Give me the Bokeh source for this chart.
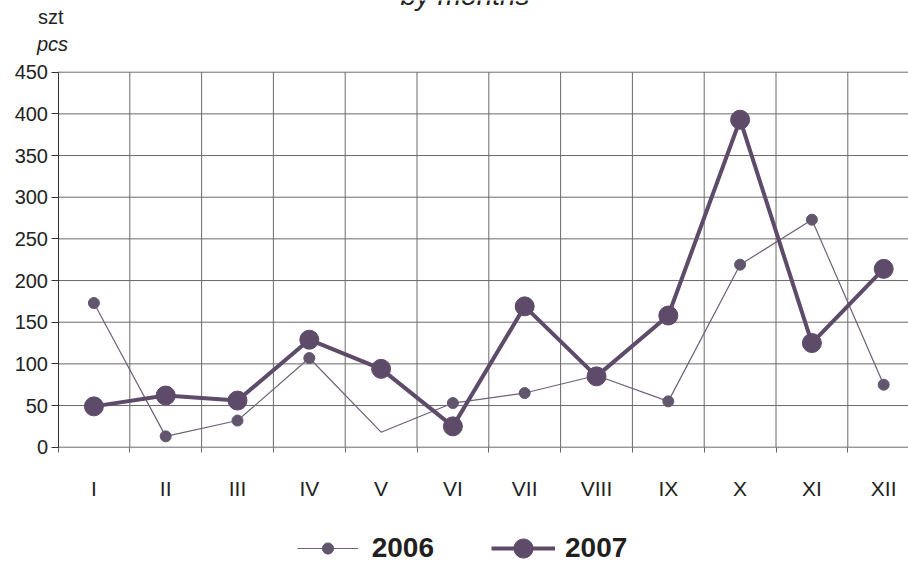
from bokeh.plotting import figure
from bokeh.models import (Range1d, FixedTicker, Label, Legend, LegendItem, ColumnDataSource)
from bokeh.embed import file_html
from bokeh.resources import INLINE

# ---- data ----
months = ["I", "II", "III", "IV", "V", "VI", "VII", "VIII", "IX", "X", "XI", "XII"]
s2006 = [173, 13, 32, 107, 18, 53, 65, 86, 55, 219, 273, 75]
s2007 = [49, 62, 56, 129, 94, 25, 169, 85, 158, 393, 125, 214]
marker2006 = [True, True, True, True, False, True, True, True, True, True, True, True]
y_ticks = [0, 50, 100, 150, 200, 250, 300, 350, 400, 450]

xs = list(range(1, len(months) + 1))
bounds_x = [x + 0.5 for x in xs]            # category boundaries 1.5 .. 12.5
first_edge = xs[0] - 0.5
FONT = "Liberation Sans"

W, H = 908, 562
# plot geometry (pixels): y-axis at x=57.5, category width 71.8; value 0 at y=446.7, 450 at y=71.7
AX_X, CAT_W = 57.5, 71.8
Y0_PX, Y450_PX = 446.7, 71.7
ppu = (Y0_PX - Y450_PX) / 450.0
x_start = first_edge - AX_X / CAT_W
x_end = first_edge + (W - AX_X) / CAT_W
y_start = -(H - Y0_PX) / ppu
y_end = 450 + Y450_PX / ppu

p = figure(width=W, height=H, output_backend="svg", toolbar_location=None,
           x_range=Range1d(x_start, x_end), y_range=Range1d(y_start, y_end),
           min_border=0)
p.outline_line_color = None
p.background_fill_color = "white"
p.border_fill_color = "white"
p.xgrid.visible = False
p.ygrid.visible = False

GRID = "#6a6a6a"
# horizontal grid lines
p.segment(x0=[first_edge] * len(y_ticks), x1=[bounds_x[-1]] * len(y_ticks),
          y0=y_ticks, y1=y_ticks, line_color=GRID, line_width=1)
# vertical grid lines at category boundaries
p.segment(x0=bounds_x, x1=bounds_x, y0=[y_ticks[0]] * len(bounds_x),
          y1=[y_ticks[-1]] * len(bounds_x), line_color=GRID, line_width=1)

# y axis
p.yaxis.fixed_location = first_edge
p.yaxis.bounds = (y_ticks[0], y_ticks[-1])
p.yaxis.ticker = FixedTicker(ticks=y_ticks)
p.yaxis.axis_line_color = "#333333"
p.yaxis.major_tick_line_color = "#333333"
p.yaxis.major_tick_out = 7
p.yaxis.major_tick_in = 0
p.yaxis.minor_tick_line_color = None
p.yaxis.major_label_standoff = 3
p.yaxis.major_label_text_font = FONT
p.yaxis.major_label_text_font_size = "20px"
p.yaxis.major_label_text_color = "#222222"

# x axis
p.xaxis.fixed_location = y_ticks[0]
p.xaxis.ticker = FixedTicker(ticks=xs, minor_ticks=[first_edge] + bounds_x)
p.xaxis.major_label_overrides = {x: m for x, m in zip(xs, months)}
p.xaxis.axis_line_color = None
p.xaxis.major_tick_line_color = None
p.xaxis.major_tick_out = 0
p.xaxis.major_tick_in = 0
p.xaxis.minor_tick_line_color = GRID
p.xaxis.minor_tick_out = 5
p.xaxis.minor_tick_in = 0
p.xaxis.major_label_standoff = 25
p.xaxis.major_label_text_font = FONT
p.xaxis.major_label_text_font_size = "21px"
p.xaxis.major_label_text_color = "#222222"

# series
c06_line = "#6e6178"
c06_mark = "#62566f"
c07 = "#5e4a69"

l06 = p.line(xs, s2006, line_color=c06_line, line_width=1.2)
src06m = ColumnDataSource(dict(x=[x for x, f in zip(xs, marker2006) if f],
                               y=[v for v, f in zip(s2006, marker2006) if f]))
m06 = p.scatter("x", "y", source=src06m, size=11, fill_color=c06_mark, line_color=c06_mark)
l07 = p.line(xs, s2007, line_color=c07, line_width=4, line_join="round")
m07 = p.scatter(xs, s2007, size=19, fill_color=c07, line_color=c07)

# legends (screen positions from bottom-left of canvas)
LEG_CY = H - 548.0
leg1 = Legend(items=[LegendItem(label="2006", renderers=[l06, m06])],
              location=(296.7, LEG_CY - 16), glyph_width=61, glyph_height=28,
              padding=0, margin=0, label_standoff=14, border_line_color=None,
              background_fill_alpha=0, label_text_font=FONT, label_text_font_size="28px",
              label_text_font_style="bold", label_text_color="#231f20")
leg2 = Legend(items=[LegendItem(label="2007", renderers=[l07, m07])],
              location=(491.0, LEG_CY - 24), glyph_width=64, glyph_height=48,
              padding=0, margin=0, label_standoff=10, border_line_color=None,
              background_fill_alpha=0, label_text_font=FONT, label_text_font_size="28px",
              label_text_font_style="bold", label_text_color="#231f20")
p.add_layout(leg1, "center")
p.add_layout(leg2, "center")

# texts
p.add_layout(Label(x=464.5, y=H + 5, x_units="screen", y_units="screen", text="by months",
                   text_font=FONT, text_font_style="italic", text_font_size="28px",
                   text_align="center", text_baseline="alphabetic", text_color="#222222"))
p.add_layout(Label(x=37.6, y=H - 16, x_units="screen", y_units="screen", text="szt",
                   text_font=FONT, text_font_size="20px", text_align="left",
                   text_baseline="alphabetic", text_color="#222222"))
p.add_layout(Label(x=36.5, y=H - 43, x_units="screen", y_units="screen", text="pcs",
                   text_font=FONT, text_font_style="italic", text_font_size="20px",
                   text_align="left", text_baseline="alphabetic", text_color="#222222"))

open("out.html", "w").write(file_html(p, INLINE))
